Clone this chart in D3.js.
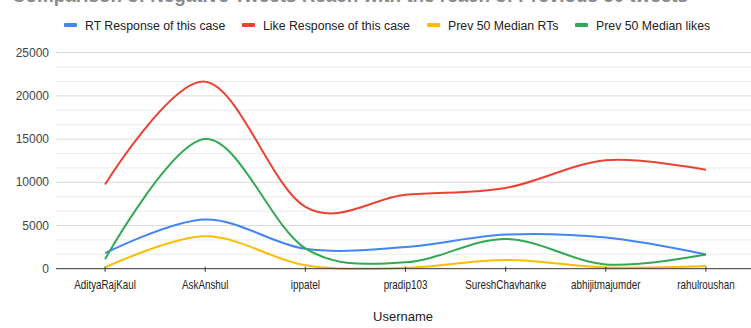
<!DOCTYPE html>
<html>
<head>
<meta charset="utf-8">
<script src="https://cdn.jsdelivr.net/npm/d3@7"></script>
<style>
  html, body { margin: 0; padding: 0; background: #fff; }
  svg { display: block; font-family: "Liberation Sans", Arial, sans-serif; }
</style>
</head>
<body>
<svg id="chart" width="751" height="328"></svg>
<script>
// Usernames along the x axis
const categories = ["AdityaRajKaul", "AskAnshul", "ippatel", "pradip103", "SureshChavhanke", "abhijitmajumder", "rahulroushan"];

// Series values per username
const rtResponse     = [1800, 5700, 2300, 2500, 3950, 3600, 1650];
const likeResponse   = [9750, 21650, 7150, 8550, 9350, 12550, 11450];
const medianRTs      = [150, 3750, 400, 100, 1000, 150, 300];
const medianLikes    = [1100, 15000, 2350, 750, 3450, 500, 1650];

const seriesNames  = ["RT Response of this case", "Like Response of this case", "Prev 50 Median RTs", "Prev 50 Median likes"];
const seriesColors = ["#4285F4", "#EA4335", "#FBBC04", "#34A853"];
const yTicks = [0, 5000, 10000, 15000, 20000, 25000];

const titleText = "Comparison of Negative Tweets Reach with the reach of Previous 50 tweets";
const xAxisTitle = "Username";

const svg = d3.select("#chart");

const x = d3.scalePoint().domain(categories).range([55, 756]).padding(0.5);
const y = d3.scaleLinear().domain([0, 25000]).range([268.7, 52.7]);
const left = 56, right = 751;

// Title, running off the top edge
svg.append("text")
  .attr("x", 12).attr("y", 1.5)
  .attr("font-size", 18).attr("font-weight", "bold")
  .attr("fill", "#8a8a8a")
  .attr("textLength", 676).attr("lengthAdjust", "spacingAndGlyphs")
  .text(titleText);

// Minor gridlines: three divisions per major step
const minorTicks = d3.range(0, 25000, 5000 / 3).filter((v, i) => i % 3 !== 0);
svg.append("g").selectAll("line").data(minorTicks).join("line")
  .attr("x1", left).attr("x2", right)
  .attr("y1", d => y(d)).attr("y2", d => y(d))
  .attr("stroke", "#ebebeb").attr("stroke-width", 1);

// Major gridlines
svg.append("g").selectAll("line").data(yTicks.filter(d => d > 0)).join("line")
  .attr("x1", left).attr("x2", right)
  .attr("y1", d => y(d)).attr("y2", d => y(d))
  .attr("stroke", "#d9d9d9").attr("stroke-width", 1);

// Y axis labels
svg.append("g").selectAll("text").data(yTicks).join("text")
  .attr("x", 49).attr("y", d => y(d) + 4)
  .attr("text-anchor", "end")
  .attr("font-size", 12).attr("fill", "#444")
  .text(d => d);

// Series lines
const series = [rtResponse, likeResponse, medianRTs, medianLikes];
const line = d3.line()
  .x((d, i) => x(categories[i]))
  .y(d => y(d))
  .curve(d3.curveCardinal.tension(0));

svg.append("g").selectAll("path").data(series).join("path")
  .attr("d", d => line(d))
  .attr("fill", "none")
  .attr("stroke", (d, i) => seriesColors[i])
  .attr("stroke-width", 2)
  .attr("stroke-linejoin", "round");

// Baseline and category ticks
svg.append("line")
  .attr("x1", left).attr("x2", right)
  .attr("y1", y(0)).attr("y2", y(0))
  .attr("stroke", "#333").attr("stroke-width", 1);

svg.append("g").selectAll("line").data(categories).join("line")
  .attr("x1", d => x(d)).attr("x2", d => x(d))
  .attr("y1", y(0) - 2).attr("y2", y(0) + 3)
  .attr("stroke", "#333").attr("stroke-width", 1);

// Category labels, horizontally condensed
svg.append("g").selectAll("text").data(categories).join("text")
  .attr("transform", d => `translate(${x(d)},289) scale(0.82,1)`)
  .attr("text-anchor", "middle")
  .attr("font-size", 12).attr("fill", "#222")
  .text(d => d);

// X axis title
svg.append("text")
  .attr("x", 403).attr("y", 321)
  .attr("text-anchor", "middle")
  .attr("font-size", 13).attr("fill", "#222")
  .text(xAxisTitle);

// Legend
const legendX = [64, 242, 427, 575];
const legend = svg.append("g").selectAll("g").data(seriesNames).join("g")
  .attr("transform", (d, i) => `translate(${legendX[i]},25)`);
legend.append("rect")
  .attr("x", 0).attr("y", -2).attr("width", 13).attr("height", 4).attr("rx", 1)
  .attr("fill", (d, i) => seriesColors[i]);
legend.append("text")
  .attr("x", 21).attr("y", 4.5)
  .attr("font-size", 12.3).attr("fill", "#222")
  .text(d => d);
</script>
</body>
</html>
